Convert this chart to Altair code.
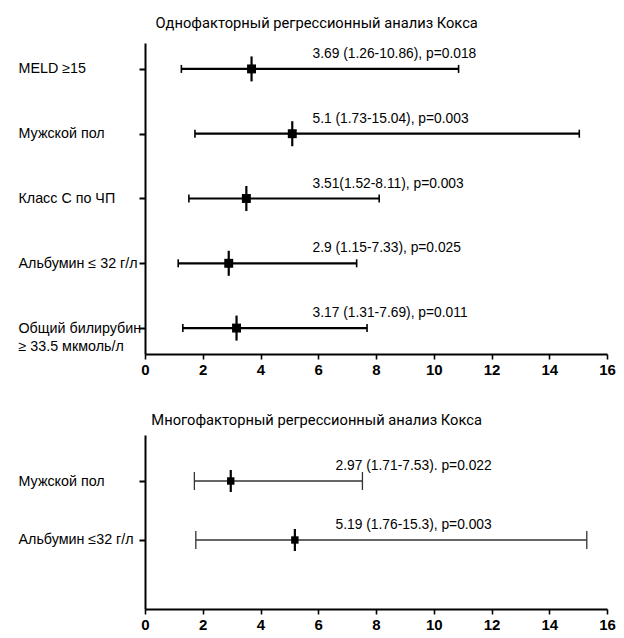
import altair as alt
import pandas as pd

# ---- Univariate Cox regression ----
uni_labels = ["MELD ≥15", "Мужской пол", "Класс С по ЧП", "Альбумин ≤ 32 г/л",
              "Общий билирубин|≥ 33.5 мкмоль/л"]
uni_hr = [3.69, 5.1, 3.51, 2.9, 3.17]
uni_lo = [1.26, 1.73, 1.52, 1.15, 1.31]
uni_hi = [10.86, 15.04, 8.11, 7.33, 7.69]
uni_text = ["3.69 (1.26-10.86), p=0.018", "5.1 (1.73-15.04), p=0.003",
            "3.51(1.52-8.11), p=0.003", "2.9 (1.15-7.33), p=0.025",
            "3.17 (1.31-7.69), p=0.011"]

# ---- Multivariate Cox regression ----
multi_labels = ["Мужской пол", "Альбумин ≤32 г/л"]
multi_hr = [2.97, 5.19]
multi_lo = [1.71, 1.76]
multi_hi = [7.53, 15.3]
multi_text = ["2.97 (1.71-7.53). p=0.022", "5.19 (1.76-15.3), p=0.003"]

x_ticks = list(range(0, 17))

FONT = "Liberation Sans, Arial, sans-serif"


def label_expr(labels):
    expr = "''"
    for i in range(len(labels), 0, -1):
        lab = labels[i - 1].replace("'", "\\'")
        expr = f"datum.value == {i} ? '{lab}' : ({expr})"
    return f"split({expr}, '|')"


def panel(labels, hr, lo, hi, text, title, ydom, height, style, text_x, title_offset):
    df = pd.DataFrame({
        "row": list(range(1, len(labels) + 1)),
        "hr": hr, "lo": lo, "hi": hi, "txt": text,
    })
    xs = alt.Scale(domain=[0, 16], nice=False, zero=True)
    ys = alt.Scale(domain=ydom, reverse=True, nice=False, zero=False)
    x_axis = alt.Axis(
        values=x_ticks, title=None, grid=False,
        labelExpr="datum.value % 2 == 0 ? datum.label : ''",
        labelFlush=False, labelOverlap=False,
        labelFont=FONT, labelFontSize=15, labelFontWeight="bold", labelColor="black",
        labelPadding=3,
        tickSize={"condition": {"test": "datum.value % 2 === 0", "value": 5}, "value": 3},
        tickWidth=1.6, tickColor="black", domainColor="black", domainWidth=2,
    )
    y_axis = alt.Axis(
        values=list(range(1, len(labels) + 1)), title=None, grid=False,
        labelExpr=label_expr(labels), labelAlign="left", labelBaseline="middle",
        labelPadding=121, labelFont=FONT, labelFontSize=14.3, labelColor="black",
        labelLineHeight=18,
        tickSize=6, tickWidth=2, tickColor="black", domainColor="black", domainWidth=2,
    )
    base = alt.Chart(df)
    ci = base.mark_rule(color=style["color"], strokeWidth=style["lw"], opacity=1).encode(
        x=alt.X("lo:Q", scale=xs, axis=x_axis),
        x2="hi:Q",
        y=alt.Y("row:Q", scale=ys, axis=y_axis),
    )
    cap_lo = base.mark_tick(orient="vertical", color=style["color"], opacity=1,
                            size=style["cap"], thickness=style["capw"]).encode(
        x=alt.X("lo:Q", scale=xs), y=alt.Y("row:Q", scale=ys))
    cap_hi = base.mark_tick(orient="vertical", color=style["color"], opacity=1,
                            size=style["cap"], thickness=style["capw"]).encode(
        x=alt.X("hi:Q", scale=xs), y=alt.Y("row:Q", scale=ys))
    vline = base.mark_tick(orient="vertical", color="black", opacity=1,
                           size=style["vl"], thickness=2.2).encode(
        x=alt.X("hr:Q", scale=xs), y=alt.Y("row:Q", scale=ys))
    sq = base.mark_square(color="black", opacity=1, size=style["sq"]).encode(
        x=alt.X("hr:Q", scale=xs), y=alt.Y("row:Q", scale=ys))
    txt = base.mark_text(align="left", baseline="middle", dy=-15, font=FONT,
                         fontSize=13.8, color="black").encode(
        x=alt.datum(text_x, scale=xs), y=alt.Y("row:Q", scale=ys), text="txt:N")
    return alt.layer(ci, cap_lo, cap_hi, vline, sq, txt).properties(
        width=462, height=height,
        view=alt.ViewBackground(stroke="transparent", strokeWidth=0),
        title=alt.TitleParams(title, font="Roboto", fontSize=14.7, fontWeight="normal",
                              color="black", anchor="middle", frame="bounds",
                              offset=title_offset),
    )


top = panel(uni_labels, uni_hr, uni_lo, uni_hi, uni_text,
            "Однофакторный регрессионный анализ Кокса", [0.6, 5.4], 311,
            {"color": "black", "lw": 2.2, "cap": 8, "capw": 1.6, "vl": 25, "sq": 80},
            5.8, 12)
bottom = panel(multi_labels, multi_hr, multi_lo, multi_hi, multi_text,
               "Многофакторный регрессионный анализ Кокса", [0.22, 3.17], 174,
               {"color": "#333333", "lw": 1.3, "cap": 18, "capw": 1.3, "vl": 22, "sq": 55},
               6.6, 7)

chart = alt.vconcat(top, bottom, spacing=36).properties(
    padding={"left": 10, "top": 8, "right": 0, "bottom": 0}
).configure(background="white").configure_view(stroke="transparent", strokeWidth=0)

chart.save("out.html", embed_options={"renderer": "svg", "actions": False})
